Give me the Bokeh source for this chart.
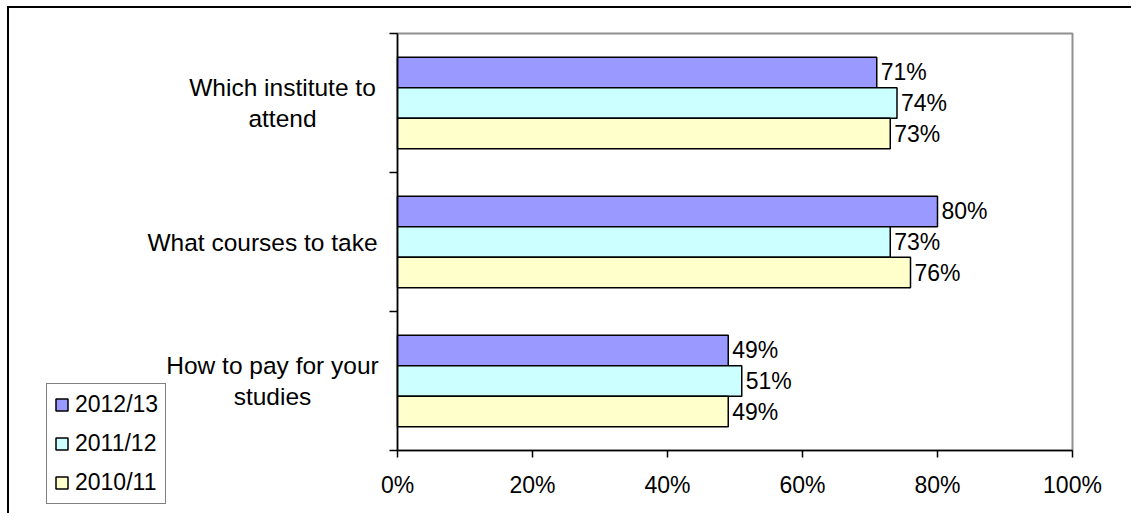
from bokeh.plotting import figure
from bokeh.models import (Range1d, FixedTicker, PrintfTickFormatter, Label,
                          Legend, LegendItem, ColumnDataSource)
from bokeh.embed import file_html
from bokeh.resources import INLINE
from bokeh.core.properties import value

# ---- data ----
categories = ["How to pay for your\nstudies", "What courses to take", "Which institute to\nattend"]
series = ["2012/13", "2011/12", "2010/11"]
v_2012_13 = [49, 80, 71]
v_2011_12 = [51, 73, 74]
v_2010_11 = [49, 76, 73]
x_ticks = [0, 20, 40, 60, 80, 100]

# ---- styles / layout ----
colors = ["#9999FF", "#CCFFFF", "#FFFFCC"]
offsets = [0.22, 0.0, -0.22]   # position within category band
bar_h = 0.22
FONT = "Liberation Sans"
FS = "23px"
CAT_FS = "24.5px"
label_x_offsets = [-125, -135, -115]

W, H = 1124, 507                 # canvas size
PL, PR = 388, 1063               # plot-area left/right (canvas px)
PT, PB = 25, 442                 # plot-area top/bottom (canvas px)
n = len(categories)
xmin, xmax = x_ticks[0], x_ticks[-1]
ppx = (PR - PL) / (xmax - xmin)
ppy = (PB - PT) / n
x_range = Range1d(xmin - PL / ppx, xmax + (W - PR) / ppx)
y_range = Range1d(0 - (H - PB) / ppy, n + PT / ppy)

p = figure(output_backend="svg", toolbar_location=None,
           width=W, height=H, min_border=0,
           x_range=x_range, y_range=y_range)
p.styles = {"border-left": "2px solid black", "border-top": "2px solid black",
            "margin-left": "7px", "margin-top": "6px"}

p.xgrid.visible = False
p.ygrid.visible = False
p.outline_line_color = None
p.background_fill_color = "white"
p.border_fill_color = "white"

# grey plot-area border (top and right visible)
p.quad(left=xmin, right=xmax, bottom=0, top=n, fill_color=None,
       line_color="#909090", line_width=2)

xa = p.xaxis[0]
xa.fixed_location = 0
xa.bounds = (xmin, xmax)
xa.ticker = FixedTicker(ticks=x_ticks, minor_ticks=[])
xa.formatter = PrintfTickFormatter(format="%d%%")
xa.axis_line_color = "black"
xa.axis_line_width = 1.5
xa.major_tick_line_color = "black"
xa.major_tick_line_width = 1.5
xa.major_tick_in = 0
xa.major_tick_out = 7
xa.minor_tick_line_color = None
xa.major_label_text_font = FONT
xa.major_label_text_font_size = FS
xa.major_label_text_color = "black"
xa.major_label_standoff = 14

cat_pos = [i + 0.5 for i in range(n)]
ya = p.yaxis[0]
ya.fixed_location = xmin
ya.bounds = (0, n)
ya.ticker = FixedTicker(ticks=list(range(n + 1)), minor_ticks=[])
ya.major_label_overrides = {i: "" for i in range(n + 1)}
ya.axis_line_color = "black"
ya.axis_line_width = 1.5
ya.major_tick_line_color = "black"
ya.major_tick_line_width = 1.5
ya.major_tick_in = 0
ya.major_tick_out = 8
ya.minor_tick_line_color = None

vals = [v_2012_13, v_2011_12, v_2010_11]
items = []
for name, v, c, off in zip(series, vals, colors, offsets):
    ys = [pos + off for pos in cat_pos]
    src = ColumnDataSource(dict(y=ys, right=v, txt=[f"{x}%" for x in v]))
    r = p.hbar(y="y", right="right", left=0, height=bar_h, source=src,
               fill_color=c, line_color="black", line_width=1.5)
    p.text(x="right", y="y", text="txt", source=src, x_offset=4,
           text_baseline="middle", text_align="left",
           text_font=value(FONT), text_font_size=FS, text_color="black")
    items.append(LegendItem(label=name, renderers=[r]))

legend = Legend(items=items, location=(37, 11),
                label_text_font=FONT, label_text_font_size=FS, label_text_color="black",
                glyph_width=15, glyph_height=15, label_standoff=6,
                label_height=23, spacing=12, padding=7, margin=0,
                border_line_color="black", border_line_width=1.5,
                background_fill_color="white", background_fill_alpha=1)
p.add_layout(legend, "center")

for pos, cat, xo in zip(cat_pos, categories, label_x_offsets):
    p.add_layout(Label(x=xmin, y=pos, x_offset=xo, text=cat,
                       text_align="center", text_baseline="middle",
                       text_font=FONT, text_font_size=CAT_FS, text_color="black",
                       text_line_height=1.12))

open("out.html", "w").write(file_html(p, INLINE))
